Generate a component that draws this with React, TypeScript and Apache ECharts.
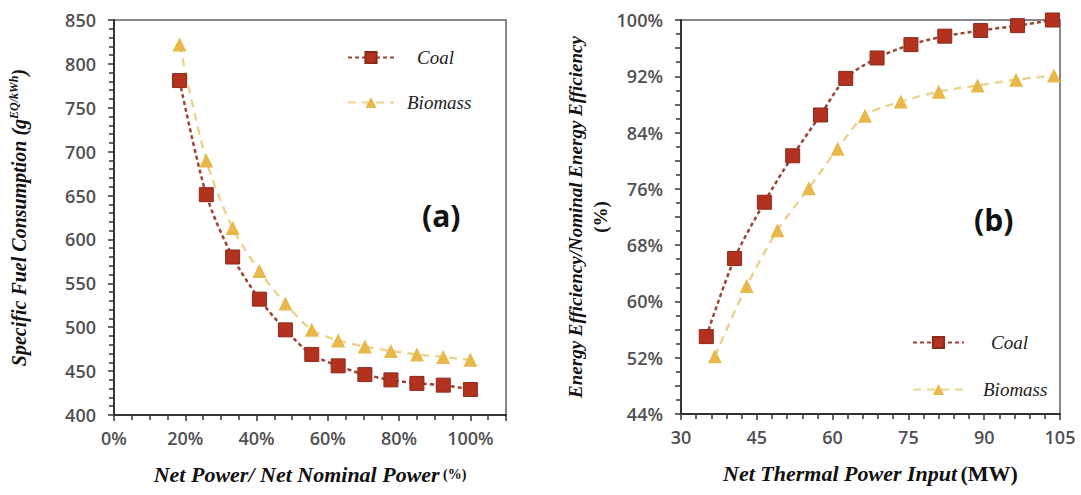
import React, { useEffect, useRef } from "react";
import * as echarts from "echarts";

const coalXA = [18.4, 25.9, 33.3, 40.8, 48.1, 55.5, 62.9, 70.4, 77.7, 85.0, 92.4, 100];
const coalYA = [781, 651, 580, 532, 497, 469, 456, 446, 440, 436, 434, 429];
const bioXA = [18.4, 25.9, 33.3, 40.8, 48.1, 55.5, 62.9, 70.4, 77.7, 85.0, 92.4, 100];
const bioYA = [822, 690, 613, 564, 527, 497, 485, 478, 473, 469, 466, 463];

const coalXB = [35.0, 40.6, 46.5, 52.1, 57.6, 62.6, 68.8, 75.5, 82.2, 89.3, 96.6, 103.5];
const coalYB = [55.0, 66.1, 74.1, 80.7, 86.5, 91.7, 94.6, 96.5, 97.7, 98.5, 99.2, 100];
const bioXB = [36.7, 43.0, 49.1, 55.3, 61.0, 66.4, 73.5, 81.0, 88.7, 96.3, 103.8];
const bioYB = [52.2, 62.2, 70.1, 76.1, 81.7, 86.4, 88.4, 89.8, 90.7, 91.5, 92.1];

const seriesNames = ["Coal", "Biomass"];
const panelLabels = ["(a)", "(b)"];

const COAL = "#b3321f";
const COAL_LINE = "#9a4634";
const BIO = "#e9b84a";
const BIO_LINE = "#ecd391";

const zip = (xs: number[], ys: number[]) => xs.map((x, i) => [x, ys[i]]);

const tickLabel = {
  fontFamily: "Open Sans",
  fontWeight: 600,
  fontSize: 18,
  color: "#505050",
};

const axisLine = { show: true, lineStyle: { color: "#333", width: 2 } };
const axisTick = { show: true, inside: false, length: 6, lineStyle: { color: "#333", width: 1.5 } };
const minorTick = (n: number) => ({ show: true, splitNumber: n, length: 5, lineStyle: { color: "#333", width: 1.5 } });

const serifBI = {
  fontFamily: "Liberation Serif",
  fontWeight: "bold" as const,
  fontStyle: "italic" as const,
  color: "#111",
};

export default function App() {
  const ref = useRef<HTMLDivElement>(null);
  useEffect(() => {
    if (!ref.current) return;
    const chart = echarts.init(ref.current, undefined, { renderer: "svg" });
    const coalStyle = (gi: number) => ({
      type: "line",
      name: seriesNames[0],
      xAxisIndex: gi,
      yAxisIndex: gi,
      smooth: 0.3,
      symbol: "rect",
      symbolSize: 14,
      itemStyle: { color: COAL, borderColor: "#8c2a1a", borderWidth: 1 },
      lineStyle: { color: COAL_LINE, width: 2.5, type: [4, 3] },
      z: 3,
    });
    const bioStyle = (gi: number) => ({
      type: "line",
      name: seriesNames[1],
      xAxisIndex: gi,
      yAxisIndex: gi,
      smooth: 0.3,
      symbol: "triangle",
      symbolSize: 14,
      itemStyle: { color: BIO },
      lineStyle: { color: BIO_LINE, width: 2.5, type: [8, 6] },
      z: 2,
    });
    const legendText = { ...serifBI, fontWeight: "normal" as const, fontSize: 19, color: "#222" };
    chart.setOption({
      animation: false,
      backgroundColor: "#fff",
      grid: [
        { left: 114, top: 20, width: 392, height: 395, show: true, borderColor: "#888", borderWidth: 2, backgroundColor: "transparent" },
        { left: 681, top: 20, width: 379, height: 394, show: true, borderColor: "#888", borderWidth: 2, backgroundColor: "transparent" },
      ],
      legend: [
        {
          orient: "vertical",
          left: 342,
          top: 43,
          itemWidth: 46,
          itemHeight: 14,
          itemGap: 26,
          data: [
            { name: seriesNames[0], textStyle: { ...legendText, padding: [0, 0, 0, 18] } },
            { name: seriesNames[1], textStyle: { ...legendText, padding: [0, 0, 0, 8] } },
          ],
          textStyle: legendText,
        },
        {
          orient: "vertical",
          left: 907,
          top: 328,
          itemWidth: 51,
          itemHeight: 14,
          itemGap: 28,
          data: [
            { name: seriesNames[0], textStyle: { ...legendText, padding: [0, 0, 0, 22] } },
            { name: seriesNames[1], textStyle: { ...legendText, padding: [0, 0, 0, 14] } },
          ],
          textStyle: legendText,
        },
      ],
      xAxis: [
        {
          type: "value",
          gridIndex: 0,
          min: 0,
          max: 110,
          interval: 20,
          axisLine,
          axisTick,
          minorTick: minorTick(4),
          splitLine: { show: false },
          axisLabel: { ...tickLabel, margin: 14, formatter: "{value}%", showMaxLabel: false },
          name: "{t|Net Power/ Net Nominal Power} {s|(%)}",
          nameLocation: "middle",
          nameGap: 48,
          nameTextStyle: {
            rich: {
              t: { ...serifBI, fontSize: 22 },
              s: { fontFamily: "Liberation Serif", fontWeight: "bold", fontSize: 14, color: "#111" },
            },
          },
        },
        {
          type: "value",
          gridIndex: 1,
          min: 30,
          max: 105,
          interval: 15,
          axisLine,
          axisTick,
          minorTick: minorTick(5),
          splitLine: { show: false },
          axisLabel: { ...tickLabel, margin: 14 },
          name: "{t|Net Thermal Power Input} {s|(MW)}",
          nameLocation: "middle",
          nameGap: 48,
          nameTextStyle: {
            rich: {
              t: { ...serifBI, fontSize: 22 },
              s: { fontFamily: "Liberation Serif", fontWeight: "bold", fontSize: 22, color: "#111" },
            },
          },
        },
      ],
      yAxis: [
        {
          type: "value",
          gridIndex: 0,
          min: 400,
          max: 850,
          interval: 50,
          axisLine,
          axisTick,
          minorTick: minorTick(5),
          splitLine: { show: false },
          axisLabel: { ...tickLabel, margin: 18 },
          name: "{t|Specific Fuel Consumption (g}{sup|EQ/kWh}{t|)}",
          nameLocation: "middle",
          nameGap: 84,
          nameTextStyle: {
            rich: {
              t: { ...serifBI, fontSize: 20 },
              sup: { ...serifBI, fontSize: 12, verticalAlign: "top", padding: [0, 0, 10, 0] },
            },
          },
        },
        {
          type: "value",
          gridIndex: 1,
          min: 44,
          max: 100,
          interval: 4,
          axisLine,
          axisTick,
          minorTick: minorTick(2),
          splitLine: { show: false },
          axisLabel: {
            ...tickLabel,
            margin: 18,
            formatter: (v: number) => ((Math.round(v) - 44) % 8 === 0 ? `${Math.round(v)}%` : ""),
          },
          name: "{t|Energy Efficiency/Nominal Energy Efficiency}\n{s|(%)}",
          nameLocation: "middle",
          nameGap: 68,
          nameTextStyle: {
            align: "center",
            rich: {
              t: { ...serifBI, fontSize: 19, align: "center", lineHeight: 25 },
              s: { fontFamily: "Liberation Serif", fontWeight: "bold", fontSize: 19, align: "center", lineHeight: 25, color: "#111" },
            },
          },
        },
      ],
      graphic: [
        {
          type: "text",
          left: 422,
          top: 200,
          style: { text: panelLabels[0], font: "bold 30px 'Open Sans'", fill: "#111" },
        },
        {
          type: "text",
          left: 974,
          top: 204,
          style: { text: panelLabels[1], font: "bold 30px 'Open Sans'", fill: "#111" },
        },
      ],
      series: [
        { ...coalStyle(0), data: zip(coalXA, coalYA) },
        { ...bioStyle(0), data: zip(bioXA, bioYA) },
        { ...coalStyle(1), data: zip(coalXB, coalYB) },
        { ...bioStyle(1), data: zip(bioXB, bioYB) },
      ],
    });
    return () => chart.dispose();
  }, []);
  return (
    <div
      ref={ref}
      style={{ position: "absolute", left: 0, top: 0, width: 1081, height: 495, background: "#fff" }}
    />
  );
}
